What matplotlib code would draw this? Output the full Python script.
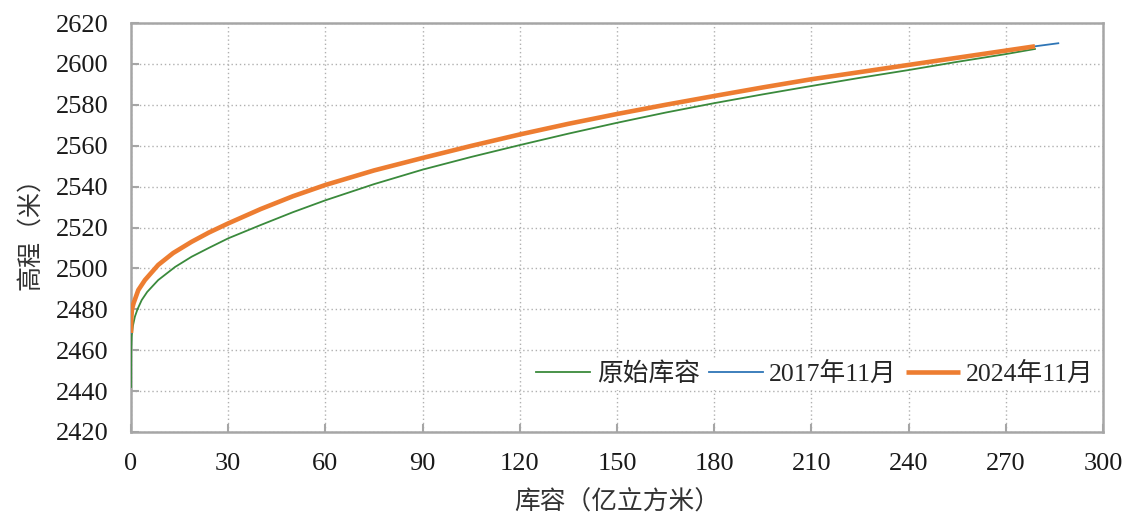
import matplotlib
matplotlib.use("Agg")
import matplotlib.pyplot as plt
from matplotlib.ticker import MultipleLocator

plt.rcParams['font.family'] = ['Liberation Serif', 'Noto Sans CJK SC', 'DejaVu Sans']

# Storage capacity (100 million m3) vs. elevation (m)
orig_cap = [0, 0.05, 0.2, 0.6, 1.2, 2, 3.3, 5, 8.4, 13.6, 18.7, 24, 30, 40, 50, 60,
            75, 90, 105, 120, 135, 150, 165, 180, 195, 210, 225, 240, 255, 270, 279]
orig_elev = [2442, 2460, 2467, 2472, 2476.4, 2480, 2484.5, 2488.5, 2494.3, 2500.7,
             2505.7, 2510, 2514.7, 2521.2, 2527.5, 2533.3, 2541.2, 2548.3, 2554.5,
             2560.3, 2565.9, 2571.2, 2576.2, 2580.8, 2585.1, 2589.2, 2593.2, 2597,
             2601, 2604.8, 2607.3]

cap_2017 = [0, 0.1, 0.3, 0.8, 2.25, 4.3, 8.4, 13, 18.7, 24, 30, 40, 50, 60, 75, 90,
            105, 120, 135, 150, 165, 180, 195, 210, 225, 240, 255, 270, 279, 286.2]
elev_2017 = [2468.4, 2476, 2480, 2483, 2489.4, 2494.3, 2501.7, 2507.5, 2513, 2517.5,
             2522, 2529.0, 2535.3, 2540.8, 2547.9, 2554.0, 2559.9, 2565.5, 2570.7,
             2575.5, 2580, 2584.3, 2588.5, 2592.5, 2596, 2599.5, 2603, 2606.5,
             2608.6, 2610.1]

cap_2024 = [0, 0.1, 0.3, 0.8, 2.25, 4.3, 8.4, 13, 18.7, 24, 30, 40, 50, 60, 75, 90,
            105, 120, 135, 150, 165, 180, 195, 210, 225, 240, 255, 270, 279]
elev_2024 = [2468.4, 2476, 2480, 2483, 2489.4, 2494.3, 2501.7, 2507.5, 2513, 2517.5,
             2522, 2529.0, 2535.3, 2540.8, 2547.9, 2554.0, 2559.9, 2565.5, 2570.7,
             2575.5, 2580, 2584.3, 2588.5, 2592.5, 2596, 2599.5, 2603, 2606.5, 2608.6]

series_names = ['原始库容', '2017年11月', '2024年11月']

fig = plt.figure(figsize=(11.26, 5.15), dpi=100)
ax = fig.add_axes([131 / 1126, 1 - 432 / 515, (1103 - 131) / 1126, (432 - 23) / 515])

ax.plot(orig_cap, orig_elev, color='#3a8a3c', lw=1.3, label=series_names[0], zorder=3)
ax.plot(cap_2017, elev_2017, color='#2e75b6', lw=1.3, label=series_names[1], zorder=4)
ax.plot(cap_2024, elev_2024, color='#ed7d31', lw=3.3, label=series_names[2], zorder=5,
        solid_capstyle='butt')

ax.set_xlim(0, 300)
ax.set_ylim(2420, 2620)
ax.xaxis.set_major_locator(MultipleLocator(30))
ax.yaxis.set_major_locator(MultipleLocator(20))

ax.grid(True, color='#b0b0b0', linestyle=(0, (1, 2)), linewidth=1.0)
ax.set_axisbelow(True)

for s in ax.spines.values():
    s.set_color('#a6a6a6')
    s.set_linewidth(1.8)

ax.tick_params(axis='both', direction='in', length=6, width=1.5, color='#a6a6a6',
               labelsize=19, labelcolor='#1a1a1a')
ax.tick_params(axis='x', pad=15)
ax.tick_params(axis='y', pad=16)

ax.set_xlabel('库容（亿立方米）', fontsize=18.5, color='#333333')
ax.set_ylabel('高程（米）', fontsize=18, color='#333333')
ax.xaxis.set_label_coords(0.5, -0.142)
ax.yaxis.set_label_coords(-0.091, 0.5)

leg = ax.legend(loc='lower right', ncol=3, fontsize=18.5, frameon=True,
                bbox_to_anchor=(1.0, 0.09), borderaxespad=0.2,
                handlelength=2.1, handletextpad=0.25, columnspacing=0.35,
                borderpad=0.15)
leg.get_frame().set_edgecolor('none')
leg.get_frame().set_facecolor('white')
leg.get_frame().set_alpha(1.0)
for t in leg.get_texts():
    t.set_color('#262626')

fig.savefig('out.png', dpi=100)
